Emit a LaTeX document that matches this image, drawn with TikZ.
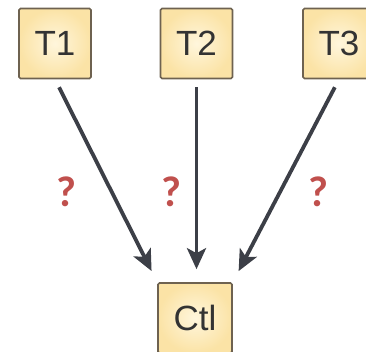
\documentclass[tikz,border=0pt]{standalone}
\usepackage{fontspec}
\setmainfont{Liberation Sans}
\newfontfamily\qfont{Carlito}[UprightFont={* Bold}]
\usepackage{tikz}
\usetikzlibrary{positioning, arrows.meta}

\definecolor{boxfill}{HTML}{FBE3A6}
\definecolor{boxcore}{HTML}{FFF6DC}
\definecolor{boxedge}{HTML}{6E6250}
\definecolor{linkgray}{HTML}{3C3F47}
\definecolor{qred}{HTML}{C0504D}

\begin{document}
\begin{tikzpicture}[
        x=1pt, y=-1pt,
        every node/.style={font=\fontsize{35}{40}\selectfont},
        taskbox/.style={draw=boxedge, line width=1.6pt, rectangle, rounded corners=1.5pt, inner color=boxcore, outer color=boxfill, minimum width=72pt, minimum height=70pt, text=black!80, inner sep=0pt},
        qmark/.style={text=qred, font=\qfont\fontsize{43}{46}\selectfont},
        link/.style={-{Stealth[length=21pt, width=19pt, inset=5pt]}, line width=3.8pt, color=linkgray, shorten <=9pt, shorten >=12.5pt}
    ]
        \useasboundingbox (0,0) rectangle (366,352);

        % Nodes
        \node (t1) [taskbox] at (55,43.5) {T1};
        \node (t2) [taskbox] at (196.5,43.5) {T2};
        \node (t3) [taskbox] at (339,43.5) {T3};
        \node (ctl) [taskbox, minimum width=74pt] at (195,318) {Ctl};

        \node (q1) [qmark] at (66,192) {?};
        \node (q2) [qmark] at (171,192) {?};
        \node (q3) [qmark] at (318,192) {?};

        % Arrows
        \draw [link] (t1.south) -- (ctl.north west);
        \draw [link, shorten <=8pt, shorten >=13pt] (t2.south) -- (t2.south |- ctl.north);
        \draw [link] (t3.south) -- (ctl.north east);
    \end{tikzpicture}
\end{document}
